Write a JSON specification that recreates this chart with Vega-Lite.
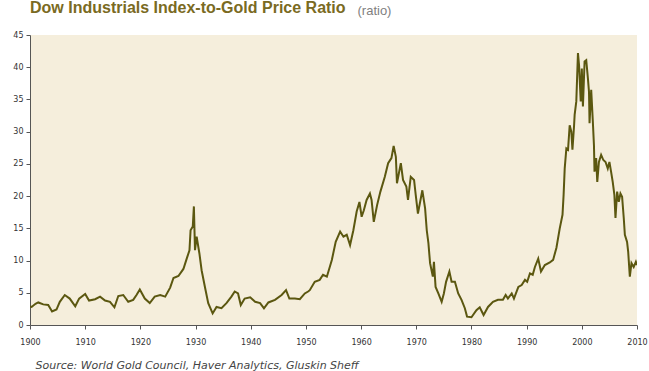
{
  "$schema": "https://vega.github.io/schema/vega-lite/v6.json",
  "width": 607,
  "height": 290,
  "autosize": {"type": "none"},
  "padding": {"left": 30, "top": 35, "right": 12, "bottom": 46},
  "background": "white",
  "title": {
    "text": "Dow Industrials Index-to-Gold Price Ratio",
    "anchor": "start",
    "frame": "group",
    "font": "Liberation Sans",
    "fontSize": 16,
    "fontWeight": "bold",
    "color": "#7a6a22",
    "baseline": "alphabetic",
    "offset": -25
  },
  "config": {
    "view": {"fill": "#f5eedc", "stroke": null},
    "axis": {
      "labelFont": "DejaVu Sans",
      "labelFontSize": 8,
      "labelColor": "#333333",
      "domainColor": "#555555",
      "tickColor": "#555555",
      "grid": false
    }
  },
  "data": {
    "values": [
      {"year": 1900.0, "ratio": 2.9}, {"year": 1900.3, "ratio": 2.8}, {"year": 1901.0, "ratio": 3.3},
      {"year": 1901.5, "ratio": 3.5}, {"year": 1902.4, "ratio": 3.2}, {"year": 1903.3, "ratio": 3.1},
      {"year": 1904.0, "ratio": 2.1}, {"year": 1904.8, "ratio": 2.4}, {"year": 1905.4, "ratio": 3.6},
      {"year": 1906.3, "ratio": 4.65}, {"year": 1907.2, "ratio": 4.1}, {"year": 1908.2, "ratio": 2.9},
      {"year": 1908.9, "ratio": 4.1}, {"year": 1910.0, "ratio": 4.8}, {"year": 1910.7, "ratio": 3.8},
      {"year": 1911.8, "ratio": 4.0}, {"year": 1912.7, "ratio": 4.4}, {"year": 1913.6, "ratio": 3.8},
      {"year": 1914.5, "ratio": 3.6}, {"year": 1915.3, "ratio": 2.75}, {"year": 1916.0, "ratio": 4.5},
      {"year": 1916.9, "ratio": 4.65}, {"year": 1917.8, "ratio": 3.6}, {"year": 1918.7, "ratio": 3.9},
      {"year": 1919.3, "ratio": 4.65}, {"year": 1919.9, "ratio": 5.5}, {"year": 1920.8, "ratio": 4.1},
      {"year": 1921.7, "ratio": 3.4}, {"year": 1922.6, "ratio": 4.4}, {"year": 1923.6, "ratio": 4.65},
      {"year": 1924.5, "ratio": 4.4}, {"year": 1925.4, "ratio": 5.8}, {"year": 1926.0, "ratio": 7.3},
      {"year": 1926.9, "ratio": 7.6}, {"year": 1927.8, "ratio": 8.7}, {"year": 1928.4, "ratio": 10.3},
      {"year": 1928.9, "ratio": 11.6}, {"year": 1929.1, "ratio": 14.7}, {"year": 1929.5, "ratio": 15.3},
      {"year": 1929.7, "ratio": 18.4}, {"year": 1929.9, "ratio": 11.6}, {"year": 1930.2, "ratio": 13.7},
      {"year": 1930.7, "ratio": 11.1}, {"year": 1931.1, "ratio": 8.5}, {"year": 1931.7, "ratio": 5.9},
      {"year": 1932.3, "ratio": 3.4}, {"year": 1933.1, "ratio": 1.8}, {"year": 1933.8, "ratio": 2.8},
      {"year": 1934.7, "ratio": 2.6}, {"year": 1935.6, "ratio": 3.4}, {"year": 1936.5, "ratio": 4.4},
      {"year": 1937.1, "ratio": 5.2}, {"year": 1937.7, "ratio": 4.9}, {"year": 1938.2, "ratio": 3.1},
      {"year": 1938.9, "ratio": 4.1}, {"year": 1939.9, "ratio": 4.3}, {"year": 1940.8, "ratio": 3.6},
      {"year": 1941.7, "ratio": 3.4}, {"year": 1942.4, "ratio": 2.6}, {"year": 1943.2, "ratio": 3.5},
      {"year": 1944.4, "ratio": 3.9}, {"year": 1945.6, "ratio": 4.65}, {"year": 1946.4, "ratio": 5.4},
      {"year": 1947.0, "ratio": 4.1}, {"year": 1948.0, "ratio": 4.1}, {"year": 1948.9, "ratio": 4.0},
      {"year": 1949.8, "ratio": 4.9}, {"year": 1950.4, "ratio": 5.2}, {"year": 1950.7, "ratio": 5.4},
      {"year": 1951.6, "ratio": 6.7}, {"year": 1952.5, "ratio": 7.0}, {"year": 1953.1, "ratio": 7.8},
      {"year": 1953.8, "ratio": 7.5}, {"year": 1954.7, "ratio": 10.1}, {"year": 1955.4, "ratio": 12.9},
      {"year": 1956.2, "ratio": 14.5}, {"year": 1956.8, "ratio": 13.7}, {"year": 1957.4, "ratio": 14.0},
      {"year": 1958.0, "ratio": 12.4}, {"year": 1958.6, "ratio": 14.7}, {"year": 1959.2, "ratio": 17.6},
      {"year": 1959.7, "ratio": 19.1}, {"year": 1960.1, "ratio": 16.8}, {"year": 1960.5, "ratio": 17.8},
      {"year": 1961.0, "ratio": 19.4}, {"year": 1961.6, "ratio": 20.4}, {"year": 1961.9, "ratio": 19.4},
      {"year": 1962.3, "ratio": 16.0}, {"year": 1962.9, "ratio": 18.6}, {"year": 1963.5, "ratio": 20.7},
      {"year": 1964.3, "ratio": 23.0}, {"year": 1964.9, "ratio": 25.1}, {"year": 1965.5, "ratio": 25.9},
      {"year": 1965.9, "ratio": 27.8}, {"year": 1966.3, "ratio": 26.1}, {"year": 1966.5, "ratio": 22.0},
      {"year": 1967.2, "ratio": 25.1}, {"year": 1967.6, "ratio": 22.5}, {"year": 1968.2, "ratio": 21.5},
      {"year": 1968.5, "ratio": 19.4}, {"year": 1969.0, "ratio": 23.0}, {"year": 1969.6, "ratio": 22.5},
      {"year": 1969.9, "ratio": 20.2}, {"year": 1970.3, "ratio": 17.3}, {"year": 1971.1, "ratio": 20.9},
      {"year": 1971.6, "ratio": 18.1}, {"year": 1971.9, "ratio": 14.7}, {"year": 1972.2, "ratio": 12.7},
      {"year": 1972.5, "ratio": 9.6}, {"year": 1973.0, "ratio": 7.5}, {"year": 1973.2, "ratio": 9.8},
      {"year": 1973.5, "ratio": 5.9}, {"year": 1974.0, "ratio": 4.9}, {"year": 1974.6, "ratio": 3.6},
      {"year": 1975.0, "ratio": 4.9}, {"year": 1975.4, "ratio": 6.7}, {"year": 1976.0, "ratio": 8.3},
      {"year": 1976.4, "ratio": 6.7}, {"year": 1977.0, "ratio": 6.7}, {"year": 1977.6, "ratio": 4.9},
      {"year": 1978.2, "ratio": 3.9}, {"year": 1978.8, "ratio": 2.6}, {"year": 1979.2, "ratio": 1.3},
      {"year": 1980.0, "ratio": 1.2}, {"year": 1980.9, "ratio": 2.3}, {"year": 1981.5, "ratio": 2.75},
      {"year": 1982.2, "ratio": 1.55}, {"year": 1983.0, "ratio": 2.8}, {"year": 1983.9, "ratio": 3.6},
      {"year": 1984.8, "ratio": 3.9}, {"year": 1985.7, "ratio": 3.9}, {"year": 1986.2, "ratio": 4.65},
      {"year": 1986.6, "ratio": 4.1}, {"year": 1987.3, "ratio": 4.9}, {"year": 1987.7, "ratio": 4.1},
      {"year": 1988.5, "ratio": 5.9}, {"year": 1989.1, "ratio": 6.2}, {"year": 1989.7, "ratio": 7.0},
      {"year": 1990.1, "ratio": 6.7}, {"year": 1990.6, "ratio": 8.0}, {"year": 1991.1, "ratio": 7.8},
      {"year": 1991.5, "ratio": 9.0}, {"year": 1992.1, "ratio": 10.3}, {"year": 1992.6, "ratio": 8.3},
      {"year": 1993.3, "ratio": 9.3}, {"year": 1994.2, "ratio": 9.7}, {"year": 1994.8, "ratio": 10.1},
      {"year": 1995.4, "ratio": 12.0}, {"year": 1996.0, "ratio": 15.0}, {"year": 1996.5, "ratio": 17.1},
      {"year": 1996.7, "ratio": 20.2}, {"year": 1996.9, "ratio": 24.3}, {"year": 1997.2, "ratio": 27.4},
      {"year": 1997.5, "ratio": 27.2}, {"year": 1997.8, "ratio": 31.0}, {"year": 1998.1, "ratio": 30.0},
      {"year": 1998.3, "ratio": 27.2}, {"year": 1998.6, "ratio": 31.0}, {"year": 1998.7, "ratio": 32.6},
      {"year": 1999.0, "ratio": 34.7}, {"year": 1999.3, "ratio": 42.2}, {"year": 1999.5, "ratio": 40.3},
      {"year": 1999.8, "ratio": 34.7}, {"year": 2000.0, "ratio": 39.8}, {"year": 2000.2, "ratio": 33.9},
      {"year": 2000.5, "ratio": 40.9}, {"year": 2000.8, "ratio": 41.1}, {"year": 2001.1, "ratio": 38.3},
      {"year": 2001.3, "ratio": 36.2}, {"year": 2001.4, "ratio": 31.3}, {"year": 2001.7, "ratio": 36.5},
      {"year": 2002.0, "ratio": 31.5}, {"year": 2002.2, "ratio": 27.9}, {"year": 2002.3, "ratio": 23.8},
      {"year": 2002.6, "ratio": 25.9}, {"year": 2002.8, "ratio": 22.2}, {"year": 2003.1, "ratio": 25.3},
      {"year": 2003.5, "ratio": 26.4}, {"year": 2003.9, "ratio": 25.6}, {"year": 2004.3, "ratio": 25.3},
      {"year": 2004.7, "ratio": 24.3}, {"year": 2005.0, "ratio": 25.3}, {"year": 2005.3, "ratio": 23.8},
      {"year": 2005.6, "ratio": 22.2}, {"year": 2005.9, "ratio": 20.2}, {"year": 2006.1, "ratio": 16.6},
      {"year": 2006.4, "ratio": 20.7}, {"year": 2006.7, "ratio": 19.1}, {"year": 2007.0, "ratio": 20.4},
      {"year": 2007.3, "ratio": 19.9}, {"year": 2007.6, "ratio": 16.6}, {"year": 2007.8, "ratio": 14.0},
      {"year": 2008.2, "ratio": 12.9}, {"year": 2008.4, "ratio": 11.4}, {"year": 2008.7, "ratio": 7.5},
      {"year": 2009.0, "ratio": 9.6}, {"year": 2009.4, "ratio": 9.0}, {"year": 2009.8, "ratio": 9.8},
      {"year": 2010.0, "ratio": 9.3}
    ]
  },
  "mark": {"type": "line", "color": "#5b5710", "strokeWidth": 2, "clip": true, "interpolate": "linear"},
  "encoding": {
    "x": {
      "field": "year",
      "type": "quantitative",
      "scale": {"domain": [1900, 2010], "nice": false, "zero": false},
      "axis": {
        "values": [1900, 1910, 1920, 1930, 1940, 1950, 1960, 1970, 1980, 1990, 2000, 2010],
        "format": "d",
        "tickSize": 4,
        "labelPadding": 9,
        "labelFlush": false,
        "title": "Source: World Gold Council, Haver Analytics, Gluskin Sheff",
        "titleFont": "DejaVu Sans",
        "titleFontStyle": "italic",
        "titleFontWeight": "normal",
        "titleFontSize": 11,
        "titleColor": "#444444",
        "titleAnchor": "start",
        "titleAlign": "left",
        "titleBaseline": "alphabetic",
        "titleX": 5,
        "titleY": 43
      }
    },
    "y": {
      "field": "ratio",
      "type": "quantitative",
      "scale": {"domain": [0, 45], "nice": false},
      "axis": {
        "values": [0, 5, 10, 15, 20, 25, 30, 35, 40, 45],
        "tickSize": 4,
        "labelPadding": 3,
        "title": "(ratio)",
        "titleAngle": 0,
        "titleAlign": "left",
        "titleBaseline": "alphabetic",
        "titleFont": "Liberation Sans",
        "titleFontSize": 13,
        "titleFontWeight": "normal",
        "titleColor": "#7f7f7f",
        "titleX": 327,
        "titleY": -21
      }
    }
  }
}
